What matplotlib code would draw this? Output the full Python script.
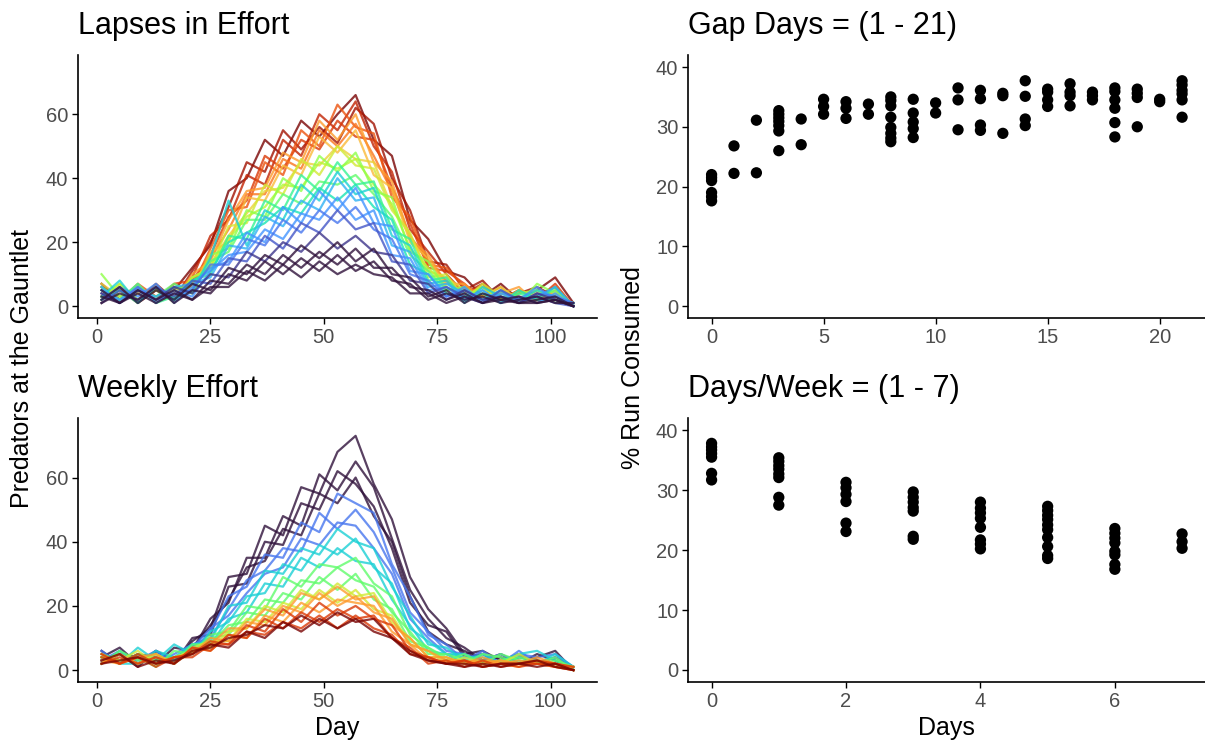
import numpy as np
import matplotlib
matplotlib.use("Agg")
import matplotlib.pyplot as plt

plt.rcParams['font.family'] = ['Liberation Sans', 'DejaVu Sans']

# ---- data ------------------------------------------------------------
days = [1, 5, 9, 13, 17, 21, 25, 29, 33, 37, 41, 45, 49, 53, 57, 61, 65,
        69, 73, 77, 81, 85, 89, 93, 97, 101, 105]

# predators at the gauntlet, one line per simulation (lapses in effort)
lapse_gap = [21, 20, 19, 18, 17, 16, 15, 14, 13, 12, 11, 10, 9, 8, 7, 6, 5,
             4, 4, 3, 2, 1, 0, 0, 0, 0]
lapse_counts = [
    [7, 2, 6, 1, 5, 12, 19, 36, 40, 52, 47, 58, 53, 60, 66, 52, 47, 27, 21, 11, 9, 3, 7, 2, 5, 9, 1],
    [3, 5, 2, 7, 2, 11, 20, 31, 45, 42, 55, 49, 56, 51, 62, 57, 40, 30, 14, 13, 5, 8, 2, 4, 6, 3, 1],
    [2, 6, 1, 5, 3, 9, 22, 27, 41, 38, 52, 47, 60, 55, 64, 50, 42, 24, 17, 10, 4, 7, 2, 5, 3, 6, 0],
    [6, 2, 5, 2, 7, 8, 16, 28, 33, 47, 43, 52, 49, 58, 53, 52, 37, 26, 12, 11, 7, 2, 4, 3, 2, 7, 0],
    [5, 1, 7, 3, 6, 6, 18, 30, 31, 45, 41, 55, 50, 63, 56, 54, 34, 28, 13, 12, 6, 3, 6, 1, 4, 2, 1],
    [2, 5, 1, 6, 3, 7, 15, 24, 35, 35, 46, 43, 55, 50, 57, 47, 36, 22, 14, 8, 4, 6, 2, 5, 2, 3, 1],
    [1, 6, 2, 5, 2, 10, 14, 27, 36, 37, 48, 45, 58, 52, 60, 45, 39, 21, 16, 7, 7, 2, 4, 6, 1, 5, 0],
    [4, 2, 7, 1, 4, 5, 17, 20, 34, 33, 44, 41, 53, 48, 55, 41, 37, 20, 15, 6, 3, 6, 1, 5, 3, 4, 0],
    [7, 3, 4, 2, 5, 6, 13, 22, 29, 36, 37, 45, 44, 50, 46, 45, 31, 22, 11, 9, 5, 3, 6, 2, 4, 2, 0],
    [2, 7, 2, 6, 1, 9, 12, 25, 26, 38, 35, 46, 41, 50, 44, 43, 30, 23, 9, 10, 2, 7, 3, 1, 5, 2, 1],
    [3, 7, 2, 5, 2, 9, 12, 21, 28, 31, 38, 37, 45, 43, 46, 38, 32, 18, 12, 6, 3, 6, 2, 4, 5, 1, 1],
    [10, 3, 6, 2, 6, 4, 16, 18, 30, 28, 40, 36, 47, 42, 48, 36, 34, 17, 14, 5, 6, 2, 5, 1, 7, 4, 0],
    [6, 2, 5, 3, 7, 4, 14, 17, 27, 27, 35, 32, 39, 38, 41, 35, 28, 16, 11, 5, 5, 2, 4, 2, 3, 5, 0],
    [5, 2, 7, 1, 3, 8, 10, 22, 21, 33, 30, 41, 36, 45, 38, 39, 24, 21, 8, 9, 2, 5, 1, 4, 2, 6, 0],
    [2, 5, 1, 6, 2, 8, 11, 20, 23, 26, 31, 29, 37, 33, 38, 31, 27, 13, 10, 4, 3, 4, 1, 5, 2, 2, 0],
    [3, 8, 1, 6, 2, 5, 15, 33, 19, 30, 27, 38, 33, 42, 35, 37, 22, 19, 7, 8, 1, 6, 3, 2, 5, 3, 1],
    [6, 1, 5, 3, 6, 7, 9, 19, 18, 28, 25, 33, 30, 40, 33, 34, 19, 17, 6, 7, 4, 2, 5, 1, 3, 6, 0],
    [2, 6, 3, 7, 1, 6, 12, 14, 23, 20, 31, 26, 36, 30, 37, 26, 25, 11, 10, 3, 6, 1, 4, 2, 6, 2, 1],
    [5, 2, 6, 1, 5, 3, 11, 16, 17, 24, 21, 29, 27, 34, 27, 30, 16, 15, 5, 6, 2, 5, 1, 3, 1, 4, 0],
    [4, 1, 6, 2, 4, 5, 13, 13, 21, 19, 27, 23, 30, 26, 31, 24, 21, 10, 8, 3, 5, 2, 3, 1, 4, 3, 1],
    [1, 5, 2, 6, 3, 8, 7, 15, 14, 22, 18, 26, 23, 30, 24, 26, 14, 13, 4, 6, 3, 1, 5, 2, 3, 1, 0],
    [4, 1, 5, 2, 6, 4, 10, 9, 17, 14, 20, 17, 23, 18, 22, 17, 16, 8, 7, 2, 5, 2, 3, 1, 4, 2, 0],
    [2, 6, 1, 5, 2, 7, 5, 12, 10, 16, 13, 19, 15, 20, 14, 18, 10, 9, 3, 5, 1, 4, 2, 3, 1, 2, 0],
    [5, 1, 4, 1, 4, 2, 8, 7, 13, 10, 16, 12, 17, 13, 18, 12, 12, 6, 5, 2, 4, 1, 3, 1, 2, 3, 0],
    [1, 4, 2, 6, 1, 5, 4, 10, 8, 14, 10, 15, 11, 16, 11, 14, 8, 7, 2, 4, 2, 3, 1, 2, 3, 1, 1],
    [3, 1, 5, 2, 5, 2, 6, 6, 11, 8, 13, 9, 14, 10, 13, 10, 9, 4, 4, 1, 3, 1, 2, 1, 1, 2, 0],
]

# predators at the gauntlet, one line per simulation (weekly effort)
weekly_days = [0, 0, 0, 0, 1, 1, 1, 2, 2, 2, 3, 3, 3, 4, 4, 5, 5, 5, 6, 6,
               6, 7, 7]
weekly_counts = [
    [4, 7, 2, 6, 2, 9, 13, 29, 30, 45, 42, 57, 55, 68, 73, 58, 47, 29, 19, 13, 5, 6, 3, 5, 2, 4, 1],
    [2, 5, 4, 2, 7, 6, 16, 21, 35, 35, 48, 45, 61, 56, 65, 57, 41, 25, 16, 10, 7, 3, 5, 2, 4, 6, 0],
    [6, 2, 5, 4, 2, 10, 11, 26, 27, 40, 39, 52, 50, 62, 58, 51, 38, 21, 14, 12, 4, 5, 2, 4, 3, 2, 1],
    [3, 5, 1, 6, 3, 7, 14, 22, 32, 34, 44, 42, 55, 52, 60, 48, 40, 23, 12, 8, 6, 3, 4, 2, 5, 3, 0],
    [3, 6, 2, 5, 4, 6, 12, 23, 26, 36, 35, 46, 43, 55, 52, 49, 33, 23, 11, 8, 3, 6, 2, 5, 4, 5, 1],
    [6, 2, 5, 2, 5, 8, 10, 19, 28, 31, 38, 37, 49, 44, 50, 43, 32, 18, 12, 6, 5, 3, 5, 2, 3, 2, 0],
    [2, 5, 3, 6, 2, 7, 13, 17, 24, 30, 32, 41, 39, 46, 45, 38, 30, 16, 10, 5, 2, 5, 2, 6, 2, 4, 1],
    [5, 2, 2, 6, 4, 8, 9, 20, 21, 31, 30, 38, 36, 44, 40, 38, 26, 17, 8, 7, 3, 5, 2, 4, 3, 2, 1],
    [4, 2, 7, 3, 8, 5, 12, 15, 23, 24, 33, 31, 39, 36, 41, 32, 27, 13, 9, 5, 5, 2, 3, 5, 6, 3, 1],
    [2, 6, 2, 4, 3, 8, 8, 16, 18, 27, 26, 35, 32, 38, 34, 33, 22, 14, 6, 5, 4, 4, 2, 3, 2, 5, 1],
    [5, 3, 4, 1, 6, 5, 11, 12, 20, 19, 29, 26, 33, 32, 35, 27, 23, 11, 7, 4, 2, 5, 4, 2, 3, 2, 0],
    [2, 6, 3, 5, 2, 8, 8, 14, 15, 22, 21, 28, 27, 32, 28, 26, 18, 12, 5, 5, 3, 2, 5, 3, 2, 3, 1],
    [4, 2, 5, 3, 4, 6, 10, 11, 18, 17, 24, 22, 29, 25, 30, 22, 19, 9, 7, 3, 5, 2, 3, 4, 2, 4, 0],
    [4, 3, 6, 2, 4, 6, 7, 12, 13, 20, 18, 25, 22, 27, 23, 24, 15, 10, 4, 4, 2, 3, 2, 5, 2, 2, 0],
    [2, 5, 2, 5, 2, 7, 9, 9, 16, 15, 21, 19, 25, 21, 25, 19, 17, 8, 6, 2, 4, 2, 3, 2, 3, 1, 1],
    [3, 2, 4, 5, 2, 6, 8, 13, 13, 19, 17, 24, 22, 26, 22, 23, 14, 10, 4, 4, 2, 4, 2, 1, 3, 2, 0],
    [5, 2, 4, 2, 4, 5, 10, 9, 15, 14, 20, 18, 24, 20, 23, 18, 16, 8, 6, 3, 3, 2, 3, 2, 4, 2, 1],
    [2, 5, 2, 4, 2, 7, 6, 11, 10, 17, 15, 21, 18, 22, 21, 20, 12, 8, 3, 3, 2, 3, 2, 3, 2, 1, 0],
    [4, 2, 5, 2, 4, 5, 9, 8, 14, 12, 19, 15, 21, 17, 20, 16, 14, 6, 4, 2, 3, 1, 2, 2, 3, 2, 0],
    [2, 4, 2, 4, 2, 7, 6, 11, 10, 16, 13, 18, 15, 19, 16, 17, 10, 7, 2, 3, 1, 3, 1, 2, 2, 2, 1],
    [5, 2, 4, 1, 4, 4, 8, 8, 12, 11, 15, 13, 17, 13, 17, 13, 11, 5, 4, 2, 3, 1, 2, 1, 2, 1, 0],
    [3, 5, 1, 3, 2, 6, 7, 10, 11, 14, 13, 17, 14, 18, 15, 16, 10, 6, 3, 2, 2, 1, 2, 2, 3, 1, 0],
    [2, 3, 4, 2, 3, 5, 8, 7, 12, 10, 15, 12, 16, 13, 16, 12, 10, 5, 3, 2, 1, 2, 1, 2, 1, 2, 0],
]

# % run consumed by number of gap days (0 - 21)
gap_pct = [
    [22.0, 21.5, 21.0, 19.0, 18.3, 17.6],
    [26.8, 22.2],
    [31.1, 22.3],
    [32.7, 32.1, 31.5, 30.9, 30.2, 29.3, 26.0],
    [31.3, 27.0],
    [34.6, 33.4, 32.1],
    [34.2, 33.1, 31.4],
    [33.8, 32.1],
    [35.0, 34.4, 33.5, 31.6, 29.9, 28.9, 28.1, 27.5],
    [34.6, 32.3, 30.8, 29.7, 28.2],
    [34.0, 32.3],
    [36.5, 34.5, 29.5],
    [36.1, 34.7, 30.3, 29.4],
    [35.6, 35.2, 28.9],
    [37.7, 35.1, 31.3, 30.2],
    [36.3, 35.8, 34.5, 33.4],
    [37.2, 35.8, 35.2, 33.5],
    [35.8, 35.2, 34.5],
    [36.5, 35.9, 34.5, 33.1, 30.7, 28.3],
    [36.3, 35.6, 34.9, 30.0],
    [34.6, 34.2],
    [37.7, 37.0, 36.1, 35.5, 34.5, 31.6],
]

# % run consumed by days of removal per week (0 - 7)
week_pct = [
    [37.8, 37.2, 36.7, 36.1, 35.5, 32.8, 31.7],
    [35.4, 34.8, 34.1, 33.5, 32.7, 32.1, 28.8, 27.5],
    [31.3, 30.4, 29.3, 28.1, 24.5, 23.1],
    [29.7, 28.8, 28.0, 27.1, 26.5, 22.3, 21.8],
    [28.0, 27.0, 26.2, 25.3, 23.8, 21.7, 21.0, 20.2],
    [27.3, 26.6, 25.8, 25.1, 24.2, 23.4, 22.1, 20.6, 19.1, 18.6],
    [23.6, 22.8, 22.0, 21.2, 19.8, 19.2, 17.6, 16.8],
    [22.7, 21.4, 20.3],
]

# ---- figure ----------------------------------------------------------
fig = plt.figure(figsize=(12.05, 7.42), dpi=100)
ax_lapse = fig.add_axes([0.0647, 0.5714, 0.4307, 0.3544])
ax_week = fig.add_axes([0.0647, 0.0809, 0.4307, 0.3555])
ax_gap = fig.add_axes([0.571, 0.5714, 0.4295, 0.3544])
ax_dpw = fig.add_axes([0.571, 0.0809, 0.4295, 0.3555])

cmap = plt.get_cmap('turbo')


def style(ax, title):
    for s in ['top', 'right']:
        ax.spines[s].set_visible(False)
    for s in ['left', 'bottom']:
        ax.spines[s].set_linewidth(1.2)
        ax.spines[s].set_color('black')
    ax.tick_params(length=4, width=1.0, color='black', labelcolor='#4D4D4D',
                   labelsize=14.5, pad=3)
    ax.set_title(title, loc='left', fontsize=22, pad=15)


# lapses in effort: long gaps drawn first, no-gap runs on top
for g, counts in zip(lapse_gap, lapse_counts):
    ax_lapse.plot(days, counts, color=cmap(g / 21), lw=1.6, alpha=0.8)

# weekly effort: 0 days/week first
for d, counts in zip(weekly_days, weekly_counts):
    ax_week.plot(days, counts, color=cmap(d / 7), lw=1.6, alpha=0.8)

for ax in (ax_lapse, ax_week):
    ax.set_xlim(-4.2, 110.2)
    ax.set_ylim(-3.7, 78.5)
    ax.set_xticks([0, 25, 50, 75, 100])
    ax.set_yticks([0, 20, 40, 60])

gx = [i for i, v in enumerate(gap_pct) for _ in v]
gy = [p for v in gap_pct for p in v]
ax_gap.scatter(gx, gy, s=66, color='black', edgecolors='none')
ax_gap.set_xlim(-1.05, 22.05)
ax_gap.set_xticks([0, 5, 10, 15, 20])

wx = [i for i, v in enumerate(week_pct) for _ in v]
wy = [p for v in week_pct for p in v]
ax_dpw.scatter(wx, wy, s=66, color='black', edgecolors='none')
ax_dpw.set_xlim(-0.35, 7.35)
ax_dpw.set_xticks([0, 2, 4, 6])

for ax in (ax_gap, ax_dpw):
    ax.set_ylim(-2, 42)
    ax.set_yticks([0, 10, 20, 30, 40])

style(ax_lapse, 'Lapses in Effort')
style(ax_week, 'Weekly Effort')
style(ax_gap, 'Gap Days = (1 - 21)')
style(ax_dpw, 'Days/Week = (1 - 7)')

ax_week.set_xlabel('Day', fontsize=18, labelpad=4)
ax_dpw.set_xlabel('Days', fontsize=18, labelpad=4)
fig.text(0.018, 0.504, 'Predators at the Gauntlet', rotation=90,
         ha='center', va='center', fontsize=18)
fig.text(0.525, 0.504, '% Run Consumed', rotation=90,
         ha='center', va='center', fontsize=18)

fig.savefig('out.png', dpi=100)
